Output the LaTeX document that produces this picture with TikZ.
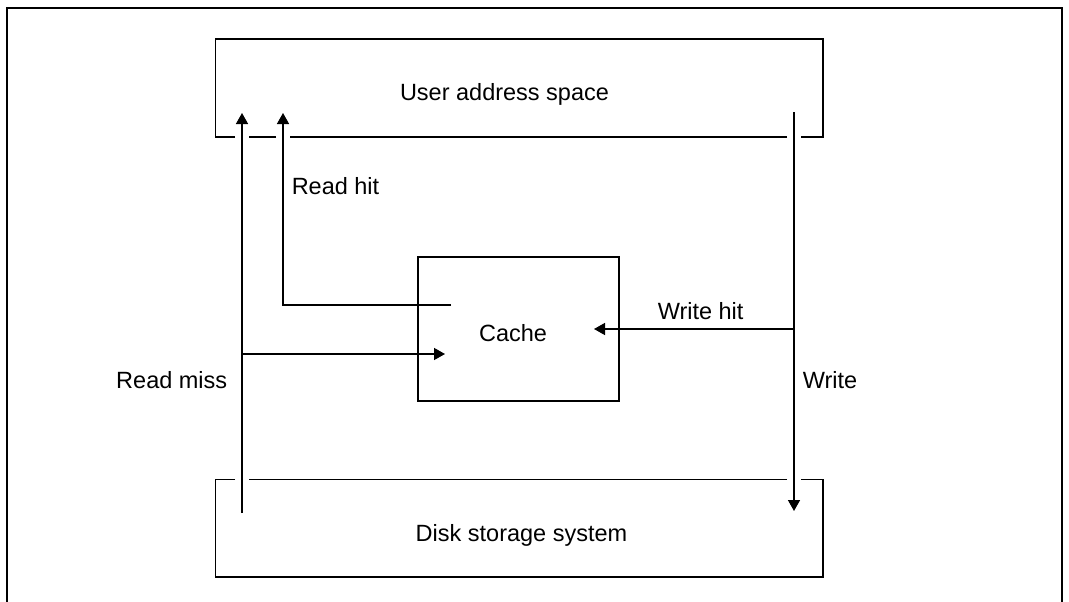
\documentclass[tikz,border=0pt]{standalone}
\usepackage{fontspec}
\setmainfont{Liberation Sans}
\usetikzlibrary{arrows.meta, positioning}

\begin{document}
\begin{tikzpicture}[x=1pt, y=-1pt, line width=1.5pt,
    >={Triangle[length=11pt, width=12pt]},
    txt/.style={font=\fontsize{23.5}{28}\selectfont, inner sep=0pt,
        text height=16.8pt, text depth=0pt},
    area/.style={rectangle, inner sep=0pt, minimum width=606pt, minimum height=96pt}]
    \useasboundingbox (0,0) rectangle (1069,602);

    % frame round the figure, open at the bottom
    \draw (7,602) -- (7,8) -- (1062,8) -- (1062,602);

    \node[area]  (User)  at (519,88)  {};
    \node[area]  (Disk)  at (519,528) {};
    \node[draw, rectangle, minimum width=201pt, minimum height=144pt] (Cache) at (518.5,329) {};

    \node[txt] (UserText)  at (504.5,92)  {User address space};
    \node[txt] (DiskText)  at (521.5,533) {Disk storage system};
    \node[txt] (CacheText) at (513,333)   {Cache};
    \node[txt, anchor=west] (ReadHit)  at (291,186)   {Read hit};
    \node[txt, anchor=east] (ReadMiss) at (228,380.5) {Read miss};
    \node[txt, anchor=west] (WriteHit) at (657,311)   {Write hit};
    \node[txt, anchor=west] (Write)    at (802,380.5) {Write};

    % lanes of the vertical arrows
    \coordinate (RM) at (242,0);
    \coordinate (RH) at (283,0);
    \coordinate (WR) at (794,0);

    % boxes, broken where the arrows pass
    \draw (User.south west) -- (User.north west) -- (User.north east) -- (User.south east)
        -- ([xshift=7pt]User.south -| WR);
    \draw ([xshift=-7pt]User.south -| WR) -- ([xshift=7pt]User.south -| RH);
    \draw ([xshift=-7pt]User.south -| RH) -- ([xshift=7pt]User.south -| RM);
    \draw ([xshift=-7pt]User.south -| RM) -- (User.south west);

    \draw (Disk.north west) -- (Disk.south west) -- (Disk.south east) -- (Disk.north east)
        -- ([xshift=7pt]Disk.north -| WR);
    \draw ([xshift=-7pt]Disk.north -| WR) -- ([xshift=7pt]Disk.north -| RM);
    \draw ([xshift=-7pt]Disk.north -| RM) -- (Disk.north west);

    % arrow ends
    \coordinate (rm0) at (242,513);
    \coordinate (rm1) at (242,113);
    \coordinate (rmb) at (242,354);
    \coordinate (rmc) at (445,354);
    \coordinate (rh0) at (451,305);
    \coordinate (rh1) at (283,305);
    \coordinate (rh2) at (283,113);
    \coordinate (wr0) at (794,112);
    \coordinate (wr1) at (794,511);
    \coordinate (wh0) at (794,329);
    \coordinate (wh1) at (594,329);

    \draw[->] (rm0) -- (rm1);
    \draw[->] (rmb) -- (rmc);
    \draw[->] (rh0) -- (rh1) -- (rh2);
    \draw[->] (wr0) -- (wr1);
    \draw[->] (wh0) -- (wh1);

\end{tikzpicture}
\end{document}
